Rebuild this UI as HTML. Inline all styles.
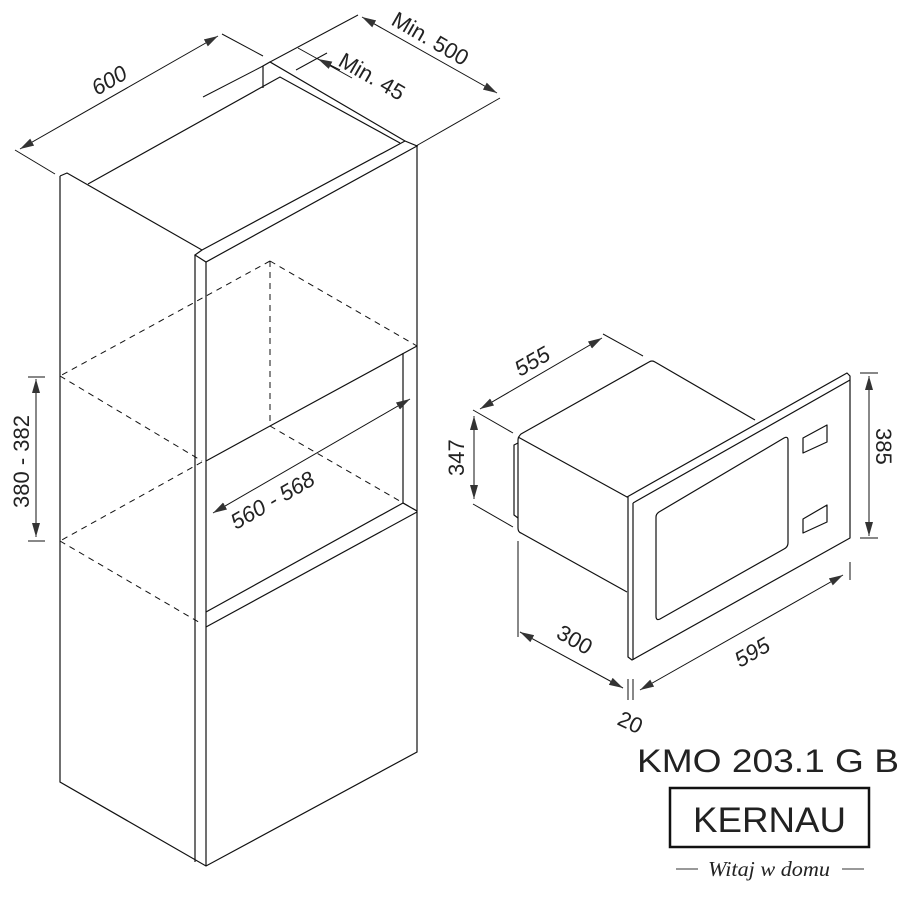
<!DOCTYPE html>
<html><head><meta charset="utf-8"><style>
html,body{margin:0;padding:0;background:#fff;}
svg{display:block;}
text{font-family:"Liberation Sans",sans-serif;fill:#222;}
</style></head><body>
<svg width="904" height="898" viewBox="0 0 904 898" xmlns="http://www.w3.org/2000/svg">
<defs>
<marker id="a" viewBox="0 0 14 8" refX="14" refY="4" markerWidth="14" markerHeight="8" markerUnits="userSpaceOnUse" orient="auto-start-reverse">
<path d="M0,0 L14,4 L0,8 Z" fill="#333"/>
</marker>
</defs>
<g stroke="#111" stroke-width="1.2" fill="none">
<path d="M60,176 L60,782 L206,866 L417,752 L417,146"/>
<path d="M195,255 L195,862"/>
<path d="M206,262 L206,866"/>
<path d="M60,176 L67,173 L202,250 L195,255 L206,262 L417,146 L405,141 L202,250"/>
<path d="M88,184 L280,77 L400,143"/>
<path d="M263,88 L263,66 L270,62 L405,141"/>
<path d="M206,461 L270,426 L417,346"/>
<path d="M403,353 L403,503 L417,511"/>
<path d="M206,612 L403,503"/>
<path d="M206,627 L417,512"/>
</g>
<g stroke="#111" stroke-width="1" fill="none" stroke-dasharray="6,5">
<path d="M270,261 L270,426"/>
<path d="M270,261 L417,346"/>
<path d="M270,261 L60,376"/>
<path d="M60,376 L202,461"/>
<path d="M202,462 L60,541"/>
<path d="M60,541 L202,624"/>
<path d="M270,426 L417,511"/>
</g>
<g stroke="#111" stroke-width="1" fill="none">
<path d="M15,150 L55,174"/>
<path d="M222,34 L263,56"/>
<path d="M20,149 L218,36" marker-start="url(#a)" marker-end="url(#a)"/>
<path d="M270,62 L358,15"/>
<path d="M416,146 L500,98"/>
<path d="M362,17 L497,93" marker-start="url(#a)" marker-end="url(#a)"/>
<path d="M298,48 L352,78"/>
<path d="M203,97 L263,66"/>
<path d="M296,70 L327,53"/>
<path d="M340,70 L318,59" marker-end="url(#a)"/>
<path d="M28,377 L45,377 M28,541 L45,541"/>
<path d="M36,379 L36,537" marker-start="url(#a)" marker-end="url(#a)"/>
<path d="M213,513 L410,399" marker-start="url(#a)" marker-end="url(#a)"/>
</g>
<text font-size="22" font-style="italic" transform="translate(97,96) rotate(-30)">600</text>
<text font-size="22" transform="translate(390,24) rotate(30)">Min. 500</text>
<text font-size="22" transform="translate(337,65) rotate(30)">Min. 45</text>
<text font-size="22" transform="translate(29,508) rotate(-90)">380 - 382</text>
<text font-size="22" font-style="italic" transform="translate(236,530) rotate(-30)">560 - 568</text>
<g stroke="#111" stroke-width="1.2" fill="none" stroke-linejoin="round">
<path d="M755,420 L655,362 Q652,360 649,362 L521,434 Q518,437 518,440 L518,528 Q518,532 521,533 L627,592"/>
<path d="M518,437 L627,497"/>
<path d="M518,443 L514,445 L514,515 L518,518"/>
<path d="M627,497 L847,373 L850,376 L850,538 L632,660 L628,657 L628,497 Z"/>
<path d="M633,503 L850,380"/>
<path d="M633,503 L633,660"/>
<path d="M659,512 L784,438 Q788,436 788,440 L788,543 Q788,547 784,549 L660,619 Q656,621 656,616 L656,517 Q656,514 659,512 Z"/>
<path d="M803,438 L827,425 L827,442 L803,453 Z"/>
<path d="M803,519 L827,505 L827,522 L803,533 Z"/>
</g>
<g stroke="#111" stroke-width="1" fill="none">
<path d="M603,334 L643,356"/>
<path d="M473,410 L513,433"/>
<path d="M480,409 L602,338" marker-start="url(#a)" marker-end="url(#a)"/>
<path d="M473,504 L513,527"/>
<path d="M474,416 L474,499" marker-start="url(#a)" marker-end="url(#a)"/>
<path d="M860,373 L878,373 M860,538 L878,538"/>
<path d="M869,376 L869,536" marker-start="url(#a)" marker-end="url(#a)"/>
<path d="M518,541 L518,637"/>
<path d="M520,632 L623,688" marker-start="url(#a)" marker-end="url(#a)"/>
<path d="M628,679 L628,700 M633,679 L633,700"/>
<path d="M640,690 L843,575" marker-start="url(#a)" marker-end="url(#a)"/>
<path d="M850,562 L850,580"/>
</g>
<text font-size="22" font-style="italic" transform="translate(520,377) rotate(-30)">555</text>
<text font-size="22" transform="translate(464,476) rotate(-90)">347</text>
<text font-size="22" transform="translate(876,428) rotate(90)">385</text>
<text font-size="22" transform="translate(555,637) rotate(30)">300</text>
<text font-size="22" transform="translate(616,724) rotate(25)">20</text>
<text font-size="22" font-style="italic" transform="translate(740,668) rotate(-30)">595</text>
<text x="637" y="772" font-size="32" textLength="262" lengthAdjust="spacingAndGlyphs" fill="#111">KMO 203.1 G B</text>
<rect x="670" y="788" width="199" height="59" fill="none" stroke="#111" stroke-width="2.5"/>
<text x="693" y="832" font-size="35" textLength="153" lengthAdjust="spacingAndGlyphs" fill="#111">KERNAU</text>
<path d="M676,869 L698,869 M842,869 L864,869" stroke="#333" stroke-width="1"/>
<text x="708" y="876" font-size="21" font-style="italic" textLength="122" lengthAdjust="spacingAndGlyphs" style="font-family:'Liberation Serif',serif" fill="#222">Witaj w domu</text>
</svg>
</body></html>
